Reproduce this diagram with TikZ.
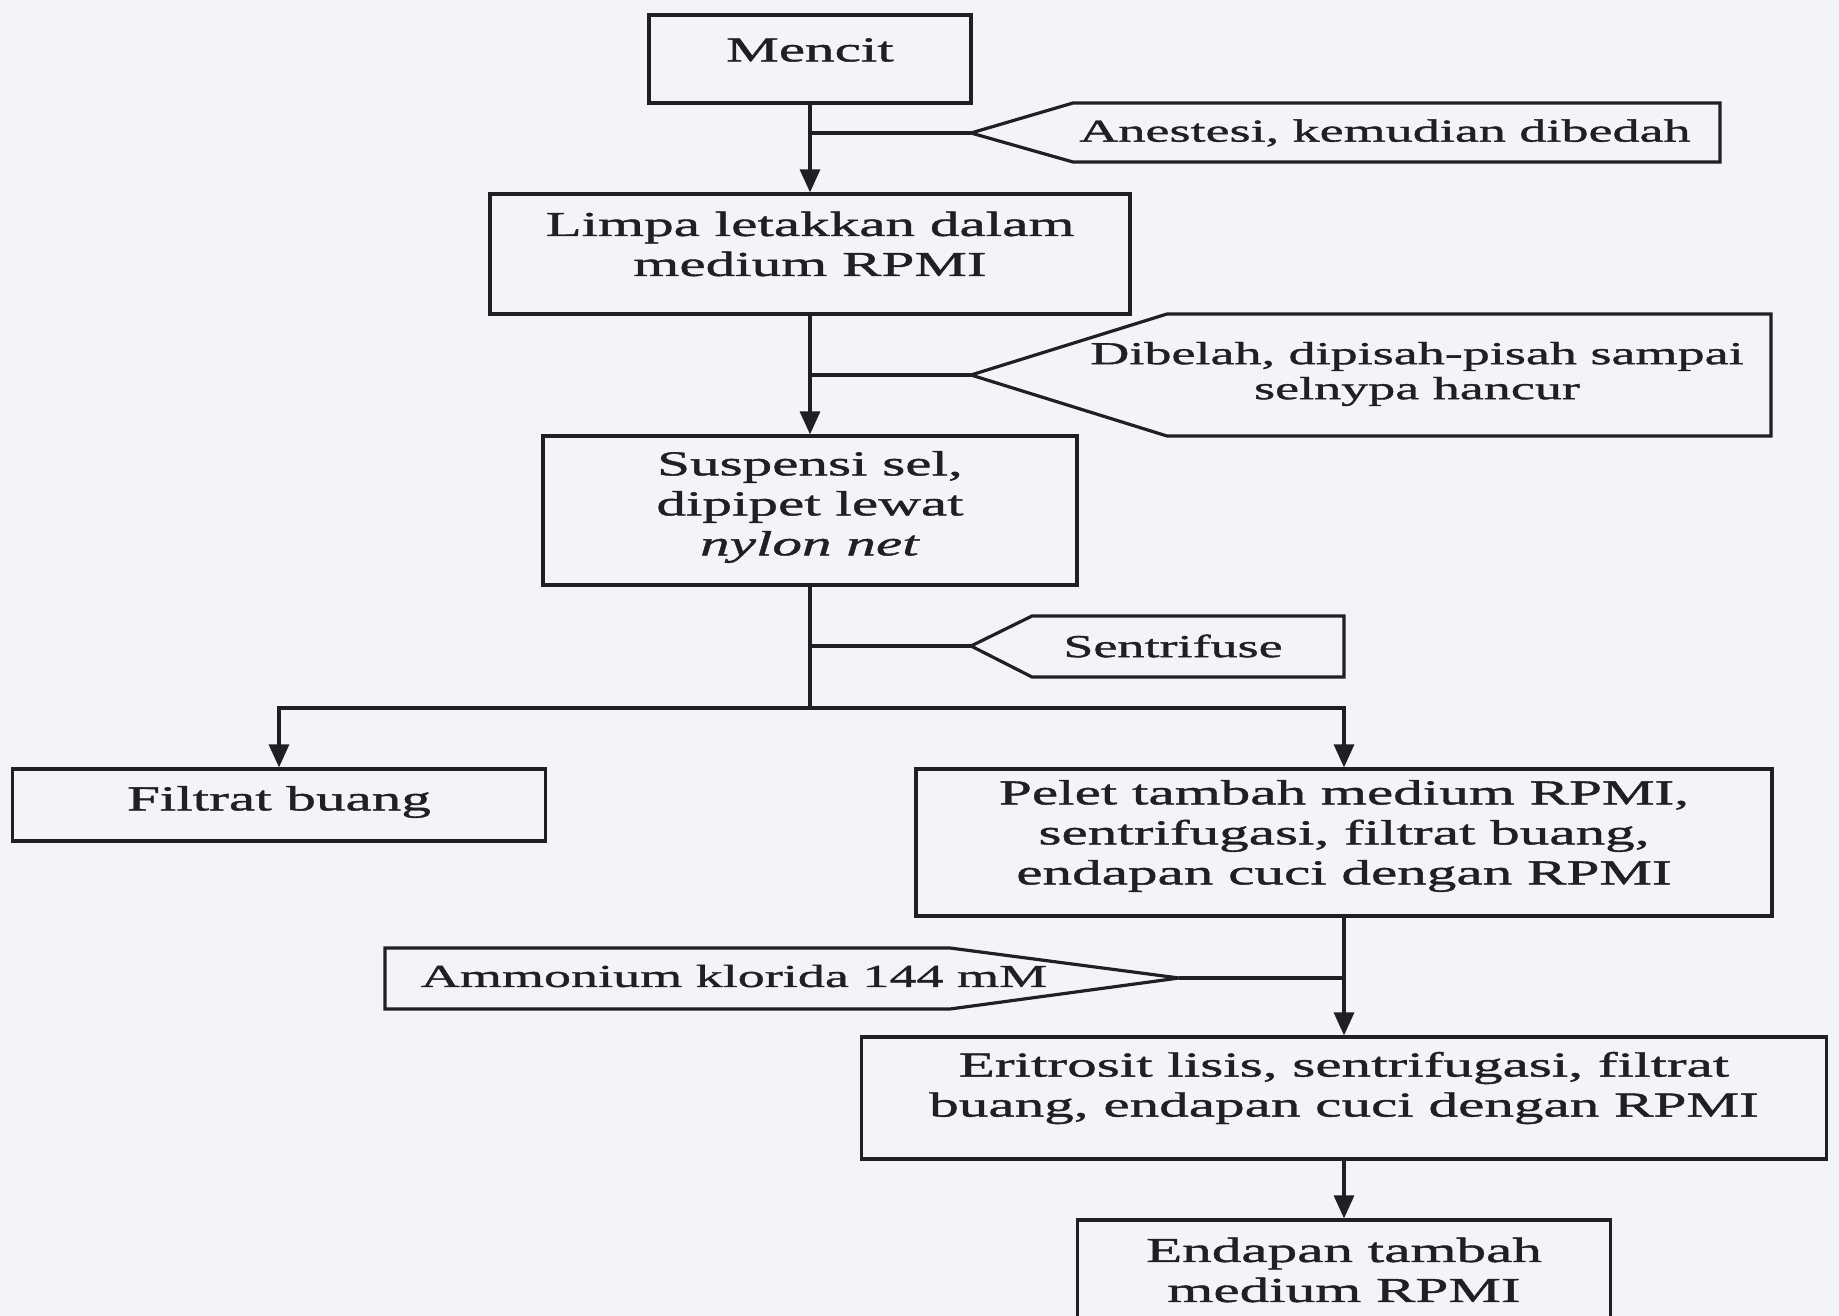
\documentclass[tikz,border=0pt]{standalone}
\usepackage{fontspec}
\setmainfont[FakeStretch=1.69,FakeBold=1.2]{Liberation Serif}
\usetikzlibrary{arrows.meta}
\definecolor{paper}{RGB}{243,244,249}
\definecolor{ink}{RGB}{32,32,36}
\begin{document}
\begin{tikzpicture}[x=1pt,y=-1pt,
  txt/.style={text=ink, align=center, inner sep=0pt, font=\fontsize{35}{40}\selectfont},
  small/.style={text=ink, align=center, inner sep=0pt, font=\fontsize{32}{35}\selectfont},
  box/.style={draw=ink, line width=3.2pt, inner sep=0pt},
  callout/.style={draw=ink, line width=3.2pt, line join=miter},
  link/.style={draw=ink, line width=3.2pt},
  arr/.style={link, -{Triangle[length=23pt,width=20pt]}}]
\fill[paper] (0,0) rectangle (1839,1316);
\useasboundingbox (0,0) rectangle (1839,1316);
\clip (0,0) rectangle (1839,1316);

% main boxes
\node[box, minimum width=322pt, minimum height=88pt] (mencit) at (810,59) {};
\node[txt] (mencitT) at (810,50) {Mencit};
\node[box, minimum width=640pt, minimum height=120pt] (limpa) at (810,254) {};
\node[txt] (limpaT) at (810,244) {Limpa letakkan dalam\\medium RPMI};
\node[box, minimum width=534pt, minimum height=149pt] (susp) at (810,510.5) {};
\node[txt] (suspT) at (810,507) {Suspensi sel,\\dipipet lewat\\\textit{nylon net}};
\node[box, minimum width=533pt, minimum height=72pt] (filtrat) at (279,805) {};
\node[txt] (filtratT) at (279,802) {Filtrat buang};
\node[box, minimum width=856pt, minimum height=147pt] (pelet) at (1344,842.5) {};
\node[txt] (peletT) at (1344,836) {Pelet tambah medium RPMI,\\sentrifugasi, filtrat buang,\\endapan cuci dengan RPMI};
\node[box, minimum width=965pt, minimum height=122pt] (eri) at (1344,1098) {};
\node[txt] (eriT) at (1344,1088) {Eritrosit lisis, sentrifugasi, filtrat\\buang, endapan cuci dengan RPMI};
\node[box, minimum width=533pt, minimum height=104pt] (endapan) at (1344,1272) {};
\node[txt] (endapanT) at (1344,1270) {Endapan tambah\\medium RPMI};

% callouts
\draw[callout] (971,133) coordinate (anesTip) -- (1073,103) -- (1720,103) -- (1720,162) -- (1073,162) -- cycle;
\node[small] (anes) at (1385,133) {Anestesi, kemudian dibedah};

\draw[callout] (971,375) coordinate (dibTip) -- (1167,314) -- (1771,314) -- (1771,436) -- (1167,436) -- cycle;
\node[small] (dib) at (1417,374) {Dibelah, dipisah-pisah sampai\\selnypa hancur};

\draw[callout] (971,646) coordinate (senTip) -- (1032,616) -- (1344,616) -- (1344,677) -- (1032,677) -- cycle;
\node[small] (sen) at (1173,646) {Sentrifuse};

\draw[callout] (1179,978) coordinate (amTip) -- (950,1009) -- (385,1009) -- (385,948) -- (950,948) -- cycle;
\node[small] (am) at (734,976) {Ammonium klorida 144 mM};

% junction coordinates
\coordinate (j1) at (810,133);
\coordinate (j2) at (810,375);
\coordinate (j3) at (810,646);
\coordinate (branch) at (810,708);
\coordinate (j4) at (1344,978);

% connectors
\draw[arr] (mencit.south) -- (limpa.north);
\draw[link] (j1) -- (anesTip);
\draw[arr] (limpa.south) -- (susp.north);
\draw[link] (j2) -- (dibTip);
\draw[link] (susp.south) -- (branch);
\draw[link] (j3) -- (senTip);
\draw[arr] (branch) -| (filtrat.north);
\draw[arr] (branch) -| (pelet.north);
\draw[arr] (pelet.south) -- (eri.north);
\draw[link] (amTip) -- (j4);
\draw[arr] (eri.south) -- (endapan.north);
\end{tikzpicture}
\end{document}
